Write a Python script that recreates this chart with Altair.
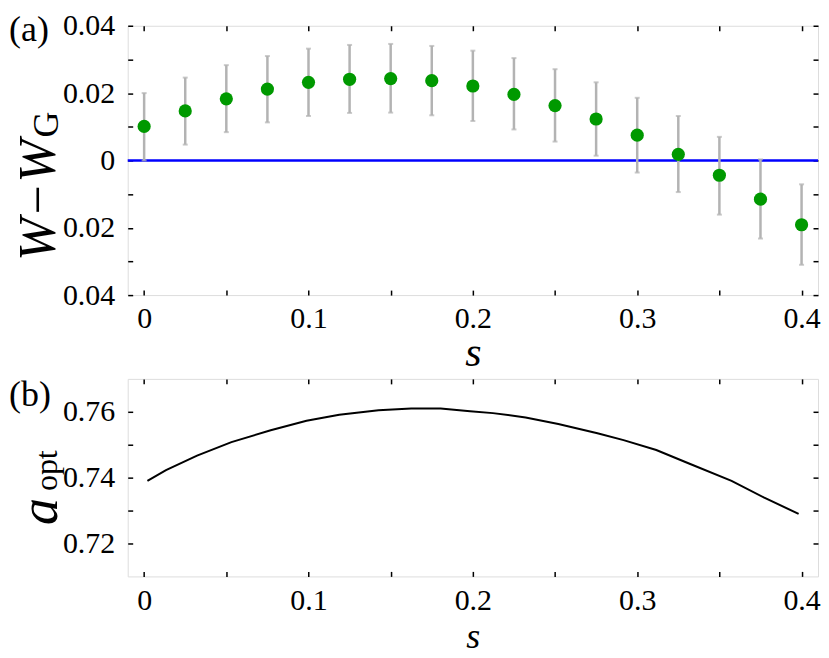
import altair as alt
import pandas as pd

# ---------------- data ----------------
s_vals = [0.0, 0.025, 0.05, 0.075, 0.1, 0.125, 0.15, 0.175, 0.2,
          0.225, 0.25, 0.275, 0.3, 0.325, 0.35, 0.375, 0.4]
w_diff = [0.0101, 0.0147, 0.0183, 0.0212, 0.0232, 0.0241, 0.0243, 0.0237, 0.0221,
          0.0196, 0.0163, 0.0123, 0.0075, 0.0018, -0.0044, -0.0115, -0.0191]
w_lo = [0.0000, 0.0047, 0.0084, 0.0113, 0.0132, 0.0141, 0.0142, 0.0134, 0.0117,
        0.0092, 0.0056, 0.0014, -0.0036, -0.0094, -0.0161, -0.0232, -0.0310]
w_hi = [0.0200, 0.0246, 0.0283, 0.0310, 0.0332, 0.0343, 0.0346, 0.0340, 0.0326,
        0.0304, 0.0271, 0.0232, 0.0186, 0.0132, 0.0070, 0.0003, -0.0071]
zero_line = [0.0]

s_curve = [0.002, 0.0133, 0.0322, 0.0531, 0.077, 0.0988, 0.1187, 0.1426, 0.1625,
           0.1804, 0.1983, 0.2122, 0.2321, 0.252, 0.2758, 0.2917, 0.3116,
           0.3315, 0.3574, 0.3773, 0.3982]
a_opt = [0.7390, 0.7423, 0.7467, 0.7508, 0.7544, 0.7573, 0.7591, 0.7605, 0.7610,
         0.7610, 0.7602, 0.7596, 0.7583, 0.7563, 0.7535, 0.7514, 0.7484,
         0.7443, 0.7390, 0.7339, 0.7290]

x_ticks = [0, 0.05, 0.1, 0.15, 0.2, 0.25, 0.3, 0.35, 0.4]
y1_ticks = [-0.04, -0.03, -0.02, -0.01, 0, 0.01, 0.02, 0.03, 0.04]
y2_ticks = [0.72, 0.73, 0.74, 0.75, 0.76]

df_w = pd.DataFrame({"s": s_vals, "w": w_diff, "lo": w_lo, "hi": w_hi})
df_zero = pd.DataFrame({"y": zero_line})
df_a = pd.DataFrame({"s": s_curve, "a": a_opt})
one = pd.DataFrame({"k": [0]})

SERIF = "Liberation Serif"
W = 692
H1 = 270
H2 = 198
TICK = 5
LABEL_SIZE = 30

x_scale = alt.Scale(domain=[-0.01, 0.41], nice=False, zero=False)
y1_scale = alt.Scale(domain=[-0.04, 0.04], nice=False, zero=False)
y2_scale = alt.Scale(domain=[0.71, 0.77], nice=False, zero=False)

x_label_expr = ("round(datum.value*20) % 2 == 0 ? "
                "(round(datum.value*100) == 0 ? '0' : format(datum.value, '.1f')) : ''")
y1_label_expr = ("round(datum.value*100) % 2 == 0 ? "
                 "(round(datum.value*100) == 0 ? '0' : format(abs(datum.value), '.2f')) : ''")
y2_label_expr = "round(datum.value*100) % 2 == 0 ? format(datum.value, '.2f') : ''"


def axis_main(orient, values, expr, title=None, lpad=8, tpad=-4, tsize=42):
    kw = dict(orient=orient, values=values, labelExpr=expr, grid=False, domain=False,
              ticks=True, tickSize=TICK, offset=-TICK, tickColor="black", tickWidth=1.5,
              labelFont=SERIF, labelFontSize=LABEL_SIZE, labelColor="black",
              labelPadding=lpad, labelFlush=False, labelOverlap=False,
              minExtent=0, maxExtent=200)
    if title is not None:
        kw.update(title=title, titleFont=SERIF, titleFontSize=tsize, titleFontStyle="italic",
                  titleFontWeight="normal", titleColor="black", titlePadding=tpad)
    else:
        kw.update(title=None)
    return alt.Axis(**kw)


def axis_minor(orient, values):
    return alt.Axis(orient=orient, values=values, labels=False, grid=False, domain=False,
                    ticks=True, tickSize=TICK, offset=-TICK, tickColor="black",
                    tickWidth=1.5, title=None, minExtent=0, maxExtent=0)


def text_layer(txt, x, y, size, style="normal", angle=0, align="center"):
    return alt.Chart(one).mark_text(
        text=txt, font=SERIF, fontSize=size, fontStyle=style, angle=angle,
        align=align, baseline="alphabetic", color="black"
    ).encode(x=alt.value(x), y=alt.value(y))


# ---------------- panel (a) ----------------
base_a = alt.Chart(df_w)

zero = alt.Chart(df_zero).mark_rule(color="#0000ff", strokeWidth=2.5).encode(
    y=alt.Y("y:Q", scale=y1_scale, axis=None)
)
bars = base_a.mark_rule(color="#b3b3b3", strokeWidth=2.5).encode(
    x=alt.X("s:Q", scale=x_scale, axis=None),
    y=alt.Y("lo:Q", scale=y1_scale, axis=None),
    y2="hi:Q",
)
cap_lo = base_a.mark_tick(color="#b3b3b3", thickness=2, size=5, orient="horizontal").encode(
    x=alt.X("s:Q", scale=x_scale, axis=None),
    y=alt.Y("lo:Q", scale=y1_scale, axis=None),
)
cap_hi = base_a.mark_tick(color="#b3b3b3", thickness=2, size=5, orient="horizontal").encode(
    x=alt.X("s:Q", scale=x_scale, axis=None),
    y=alt.Y("hi:Q", scale=y1_scale, axis=None),
)
pts = base_a.mark_circle(color="#009900", opacity=1, size=175).encode(
    x=alt.X("s:Q", scale=x_scale,
            axis=axis_main("bottom", x_ticks, x_label_expr, "s", 8, 0, 42)),
    y=alt.Y("w:Q", scale=y1_scale, axis=axis_main("left", y1_ticks, y1_label_expr, None, 13)),
)
pts_ghost = base_a.mark_circle(opacity=0).encode(
    x=alt.X("s:Q", scale=x_scale, axis=axis_minor("top", x_ticks)),
    y=alt.Y("w:Q", scale=y1_scale, axis=axis_minor("right", y1_ticks)),
)

panel_a = alt.layer(
    zero, bars, cap_lo, cap_hi, pts, pts_ghost,
    text_layer("(a)", -119, 15, 36, align="left"),
    text_layer("W\u2212W", -73, 175, 52, style="italic", angle=270),
    text_layer("G", -70, 99, 36, angle=270),
).resolve_axis(x="independent", y="independent").properties(width=W, height=H1)

# ---------------- panel (b) ----------------
base_b = alt.Chart(df_a)
curve = base_b.mark_line(color="black", strokeWidth=2).encode(
    x=alt.X("s:Q", scale=x_scale,
            axis=axis_main("bottom", x_ticks, x_label_expr, "s", 9, 4, 36)),
    y=alt.Y("a:Q", scale=y2_scale, axis=axis_main("left", y2_ticks, y2_label_expr, None, 13)),
)
curve_ghost = base_b.mark_line(opacity=0).encode(
    x=alt.X("s:Q", scale=x_scale, axis=axis_minor("top", x_ticks)),
    y=alt.Y("a:Q", scale=y2_scale, axis=axis_minor("right", y2_ticks)),
)
panel_b = alt.layer(
    curve, curve_ghost,
    text_layer("(b)", -119, 27, 36, align="left"),
    text_layer("a", -71, 133, 54, style="italic", angle=270),
    text_layer("opt", -71, 92, 32, angle=270),
).resolve_axis(x="independent", y="independent").properties(width=W, height=H2)

chart = alt.vconcat(panel_a, panel_b, spacing=1).properties(
    padding={"top": 1, "left": 0, "right": 0, "bottom": 0}
).configure_view(
    stroke="black", strokeWidth=2
).configure(background="white")

chart.save("out.html", embed_options={"renderer": "svg", "actions": False})
